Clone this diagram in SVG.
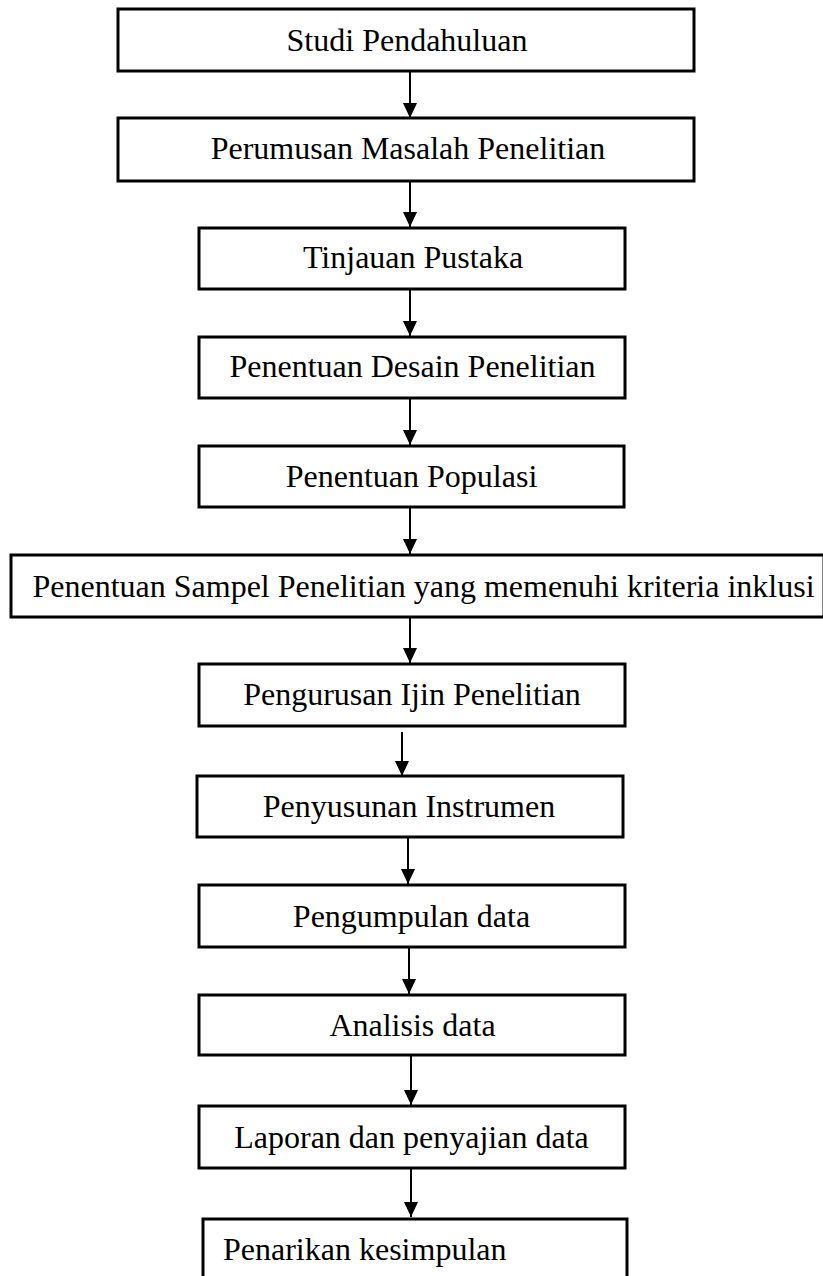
<svg xmlns="http://www.w3.org/2000/svg" width="823" height="1276" viewBox="0 0 823 1276">
<style>
.box{fill:#fff;stroke:#000;stroke-width:3}
.t{font-family:"Liberation Serif","Times New Roman",serif;font-size:32px;fill:#000}
.c{text-anchor:middle}
.arr{stroke:#000;stroke-width:2;fill:none;marker-end:url(#ah)}
</style>
<defs>
<marker id="ah" viewBox="0 0 15 14" refX="15" refY="7" markerWidth="15" markerHeight="14" markerUnits="userSpaceOnUse" orient="auto">
<path d="M0,0 L15,7 L0,14 z" fill="#000"/>
</marker>
</defs>
<rect width="823" height="1276" fill="#fff"/>
<g id="connectors">
<line class="arr" x1="410" y1="71" x2="410" y2="118"/>
<line class="arr" x1="410" y1="181" x2="410" y2="227"/>
<line class="arr" x1="410" y1="289" x2="410" y2="336"/>
<line class="arr" x1="410" y1="398" x2="410" y2="445"/>
<line class="arr" x1="410" y1="507" x2="410" y2="554"/>
<line class="arr" x1="410" y1="617" x2="410" y2="663"/>
<line class="arr" x1="402" y1="732" x2="402" y2="776"/>
<line class="arr" x1="408" y1="837" x2="408" y2="884"/>
<line class="arr" x1="409" y1="947" x2="409" y2="994"/>
<line class="arr" x1="411" y1="1055" x2="411" y2="1105"/>
<line class="arr" x1="411" y1="1168" x2="411" y2="1217"/>
</g>
<g id="n1"><rect class="box" x="118" y="9" width="576" height="62"/><text class="t c" x="407" y="51">Studi Pendahuluan</text></g>
<g id="n2"><rect class="box" x="118" y="118" width="576" height="63"/><text class="t c" x="408" y="159">Perumusan Masalah Penelitian</text></g>
<g id="n3"><rect class="box" x="199" y="228" width="426" height="61"/><text class="t c" x="413" y="268">Tinjauan Pustaka</text></g>
<g id="n4"><rect class="box" x="199" y="337" width="426" height="61"/><text class="t c" x="412.5" y="377">Penentuan Desain Penelitian</text></g>
<g id="n5"><rect class="box" x="199" y="446" width="425" height="61"/><text class="t c" x="411.5" y="487">Penentuan Populasi</text></g>
<g id="n6"><rect class="box" x="11" y="555" width="813" height="62"/><text class="t c" x="423.5" y="597">Penentuan Sampel Penelitian yang memenuhi kriteria inklusi</text></g>
<g id="n7"><rect class="box" x="199" y="664" width="426" height="62"/><text class="t c" x="412" y="705">Pengurusan Ijin Penelitian</text></g>
<g id="n8"><rect class="box" x="197" y="776" width="426" height="61"/><text class="t c" x="409" y="817">Penyusunan Instrumen</text></g>
<g id="n9"><rect class="box" x="199" y="885" width="426" height="62"/><text class="t c" x="411.5" y="927">Pengumpulan data</text></g>
<g id="n10"><rect class="box" x="199" y="995" width="426" height="60"/><text class="t c" x="412.5" y="1036">Analisis data</text></g>
<g id="n11"><rect class="box" x="199" y="1106" width="426" height="62"/><text class="t c" x="411.5" y="1148">Laporan dan penyajian data</text></g>
<g id="n12"><rect class="box" x="203" y="1219" width="424" height="80"/><text class="t" x="223" y="1260">Penarikan kesimpulan</text></g>
</svg>
